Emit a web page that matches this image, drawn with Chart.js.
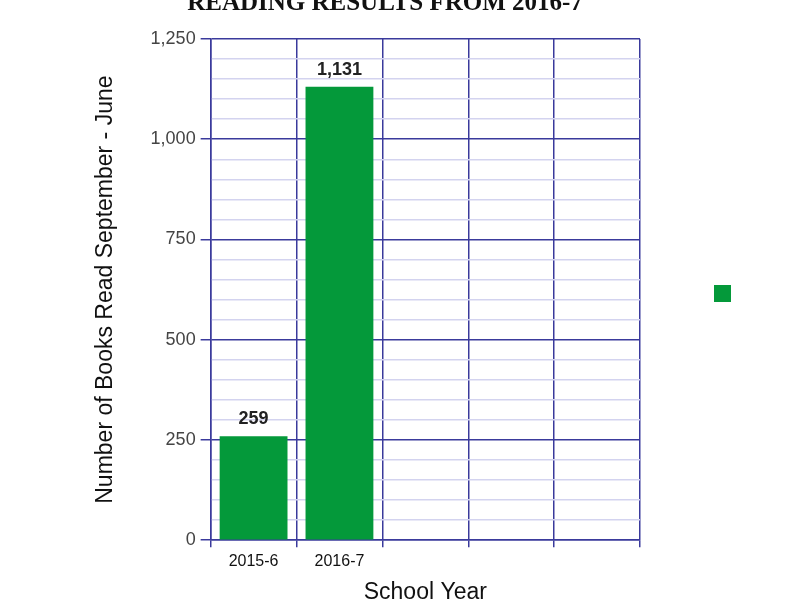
<!DOCTYPE html>
<html>
<head>
<meta charset="utf-8">
<script src="https://cdn.jsdelivr.net/npm/chart.js@4/dist/chart.umd.min.js"></script>
<style>
  html, body { margin: 0; padding: 0; background: #fff; overflow: hidden; }
  #wrap { width: 800px; height: 600px; position: relative; overflow: hidden; }
  #title {
    position: absolute; left: 0; width: 770px; top: -12px;
    text-align: center; font-family: "Liberation Serif", serif; font-weight: bold;
    font-size: 25px; color: #111; white-space: nowrap;
  }
  canvas { position: absolute; left: 0; top: 0; }
</style>
</head>
<body>
<div id="wrap">
  <canvas id="c" width="800" height="600"></canvas>
  <div id="title"></div>
</div>
<script>
const chartTitle = 'READING RESULTS FROM 2016-7';
const categories = ['2015-6', '2016-7', '', '', ''];
const booksRead = [259, 1131, null, null, null];
const yTitle = 'Number of Books Read September - June';
const xTitle = 'School Year';

document.getElementById('title').textContent = chartTitle;

const MAJOR = '#3a3a9c';
const MINOR = '#d3d3ef';
const GREEN = '#04993a';

const valueLabels = {
  id: 'valueLabels',
  afterDatasetsDraw(chart) {
    const ctx = chart.ctx;
    const meta = chart.getDatasetMeta(0);
    ctx.save();
    ctx.font = 'bold 18px "Liberation Sans", Arial, sans-serif';
    ctx.fillStyle = '#222';
    ctx.textAlign = 'center';
    ctx.textBaseline = 'alphabetic';
    meta.data.forEach((bar, i) => {
      const v = chart.data.datasets[0].data[i];
      if (v == null) return;
      ctx.fillText(v.toLocaleString('en-US'), bar.x, bar.y - 12);
    });
    ctx.restore();
  }
};

// nudge the (label-less) legend swatch up to where the reference shows it
const legendShift = {
  id: 'legendShift',
  afterLayout(chart) {
    if (chart.legend) {
      chart.legend.top -= 29;
      chart.legend.bottom -= 29;
    }
  }
};

new Chart(document.getElementById('c'), {
  type: 'bar',
  data: {
    labels: categories,
    datasets: [{
      label: '',
      data: booksRead,
      backgroundColor: GREEN,
      borderWidth: 0,
      categoryPercentage: 1,
      barPercentage: 0.79
    }]
  },
  plugins: [valueLabels, legendShift],
  options: {
    responsive: false,
    animation: false,
    devicePixelRatio: 1,
    layout: { padding: { left: 92, right: 53, top: 39, bottom: -6 } },
    plugins: {
      title: { display: false },
      legend: {
        display: true,
        position: 'right',
        labels: {
          boxWidth: 17,
          boxHeight: 17,
          padding: 74,
          font: { size: 12 }
        }
      },
      tooltip: { enabled: false }
    },
    scales: {
      x: {
        grid: { color: MAJOR, lineWidth: 1.5, tickLength: 7, offset: true, tickColor: MAJOR },
        border: { color: MAJOR, width: 1.5 },
        ticks: { color: '#111', font: { family: '"Liberation Sans", Arial, sans-serif', size: 16 }, padding: 5 },
        title: { display: true, text: xTitle, color: '#111', font: { family: '"Liberation Sans", Arial, sans-serif', size: 23 }, padding: { top: 2, bottom: 0 } }
      },
      y: {
        min: 0,
        max: 1250,
        grid: {
          color: c => (c.tick && c.tick.value % 250 === 0) ? MAJOR : MINOR,
          lineWidth: 1.5,
          tickColor: c => (c.tick && c.tick.value % 250 === 0) ? MAJOR : 'rgba(0,0,0,0)',
          tickLength: 10
        },
        border: { color: MAJOR, width: 1.5 },
        ticks: {
          stepSize: 50,
          autoSkip: false,
          color: '#444',
          font: { family: '"Liberation Sans", Arial, sans-serif', size: 18 },
          padding: 5,
          callback: v => (v % 250 === 0) ? v.toLocaleString('en-US') : ''
        },
        title: { display: true, text: yTitle, color: '#111', font: { family: '"Liberation Sans", Arial, sans-serif', size: 23 }, padding: { top: 0, bottom: 26 } }
      }
    }
  }
});
</script>
</body>
</html>
